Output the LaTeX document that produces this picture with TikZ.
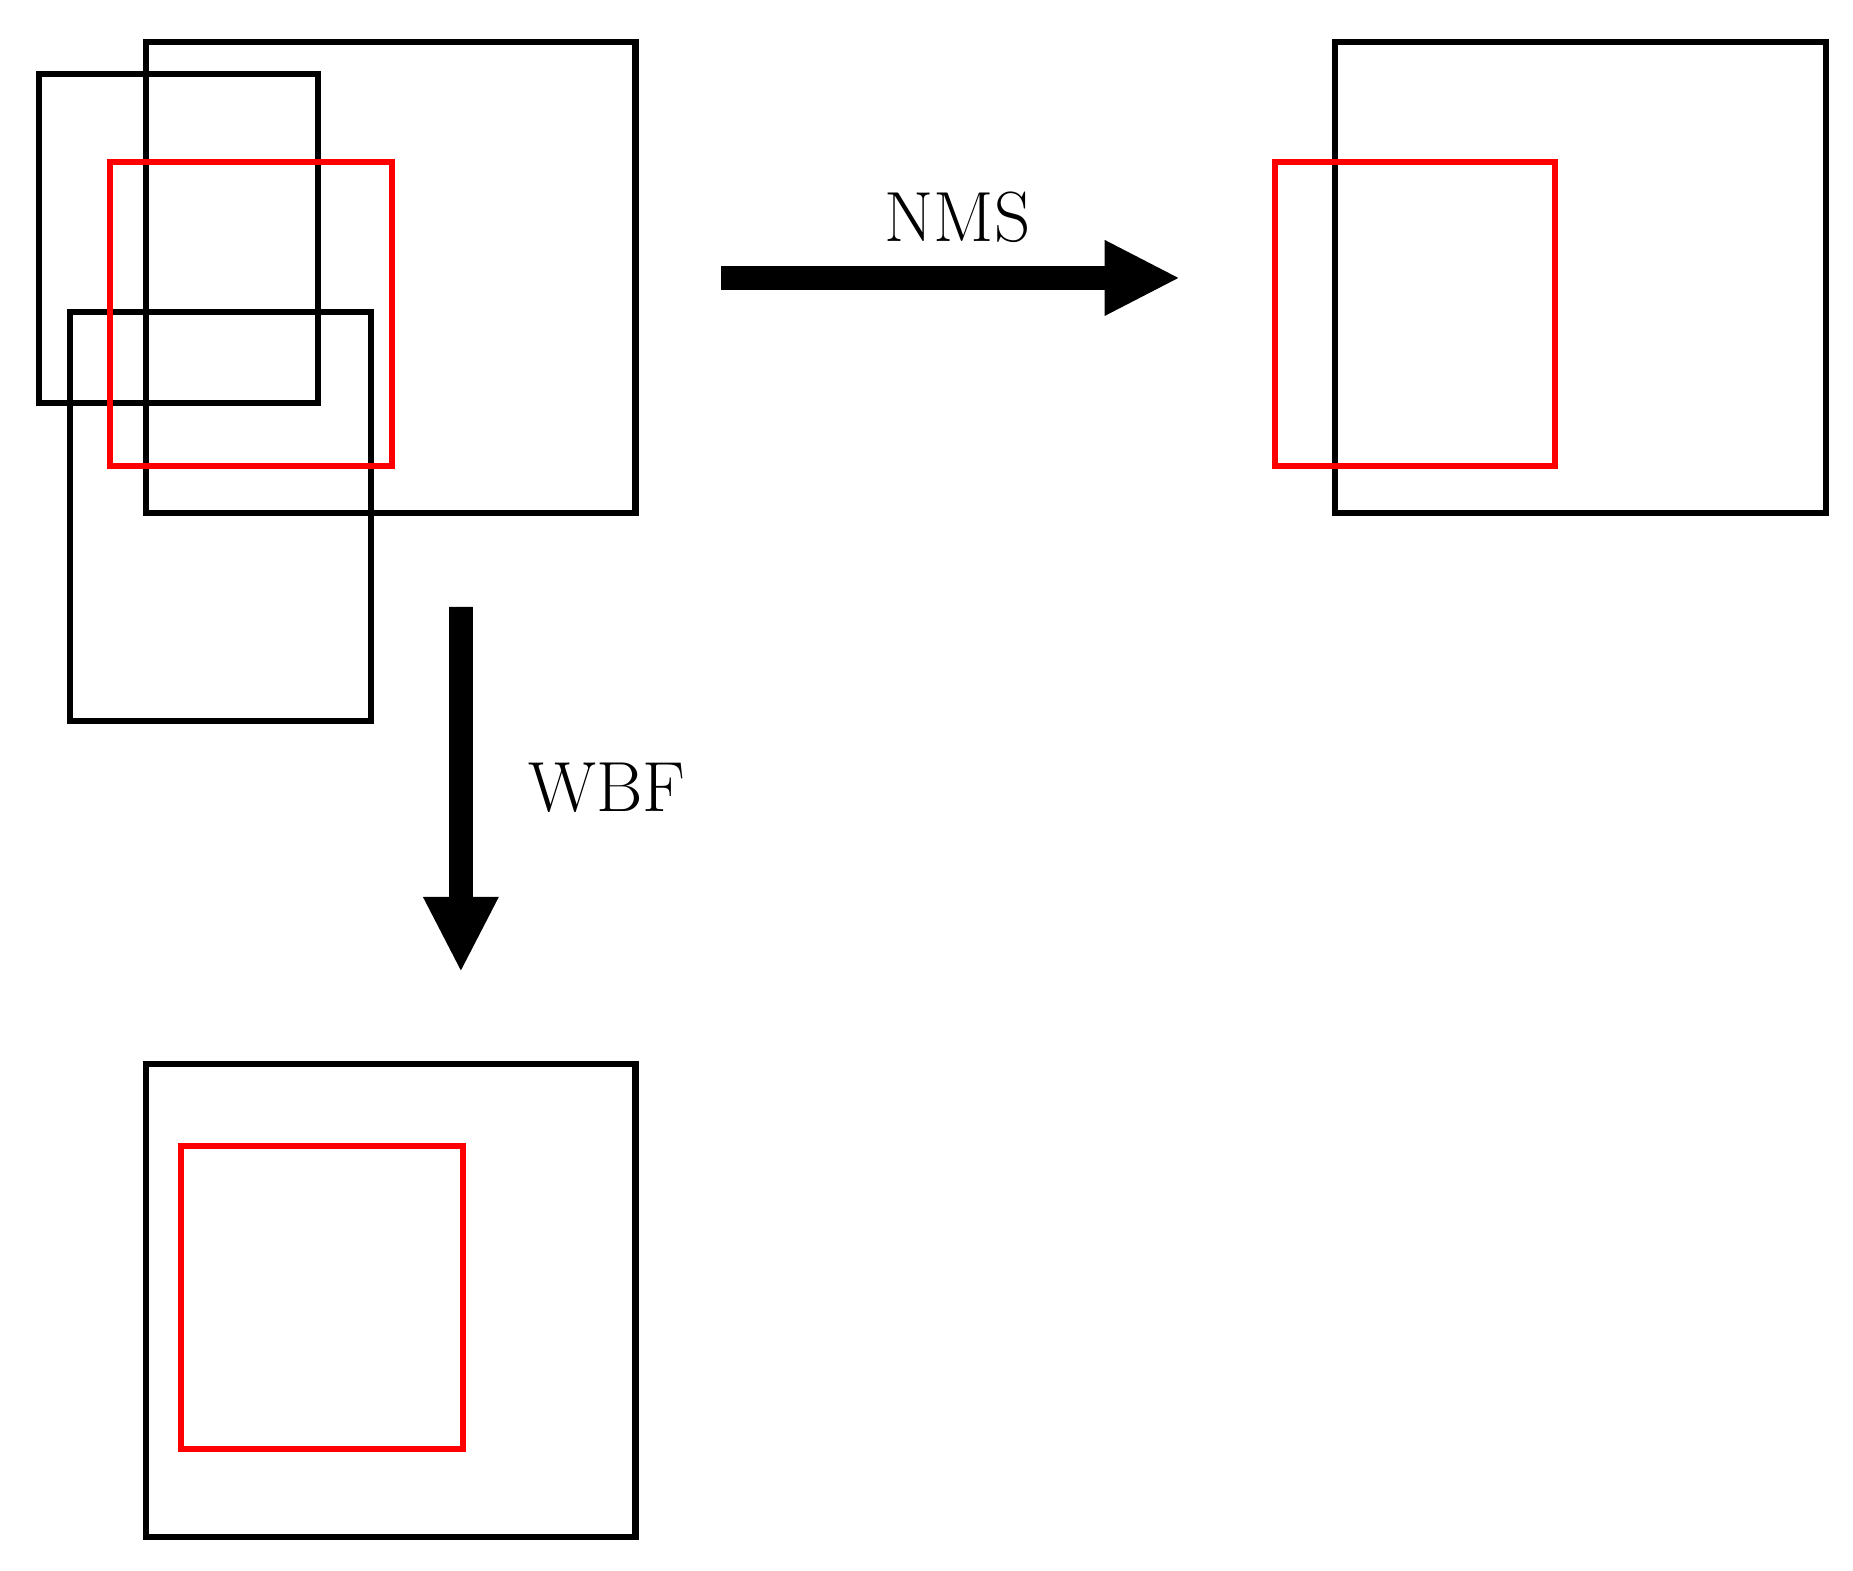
\documentclass[tikz,border=0pt]{standalone}
\begin{document}
\begin{tikzpicture}[x=0.01cm,y=-0.01cm,
  box/.style={line width=1.45pt,draw=black},
  rbox/.style={line width=1.45pt,draw=red},
  lbl/.style={font=\fontsize{17}{20}\selectfont,inner sep=0pt}]
\useasboundingbox (0,0) rectangle (1560,1322.6);
\draw[box] (123,35) rectangle (535,432);
\draw[box] (33,62) rectangle (268,339);
\draw[box] (59,263) rectangle (312,607);
\draw[rbox] (93,136) rectangle (330,392);
\draw[box] (1124,35) rectangle (1537,432);
\draw[rbox] (1073,136) rectangle (1309,392);
\draw[box] (123,896) rectangle (535,1294);
\draw[rbox] (152,965) rectangle (390,1220);
\fill (607,224) -- (930,224) -- (930,202) -- (992,234) -- (930,266) -- (930,244) -- (607,244) -- cycle;
\fill (378,511) -- (398,511) -- (398,755) -- (420,755) -- (388,817) -- (356,755) -- (378,755) -- cycle;
\node[lbl] (nms) at (806,183) {NMS};
\node[lbl] (wbf) at (511,663) {WBF};
\end{tikzpicture}
\end{document}
